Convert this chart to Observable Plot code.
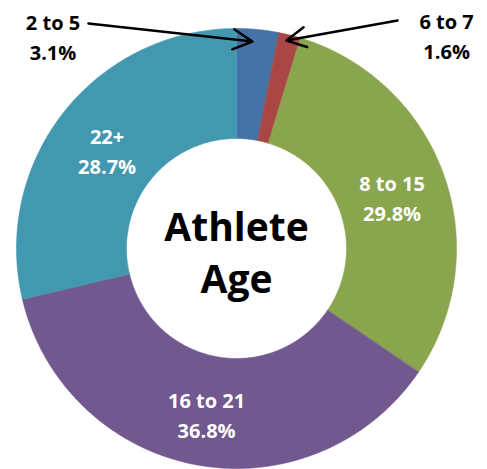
<!DOCTYPE html>
<html>
<head>
<meta charset="utf-8">
<script src="https://cdn.jsdelivr.net/npm/d3@7"></script>
<script src="https://cdn.jsdelivr.net/npm/@observablehq/plot@0.6"></script>
<style>
  html, body { margin: 0; padding: 0; background: #fff; }
  #chart svg { display: block; }
</style>
</head>
<body>
<div id="chart"></div>
<script>
// ---- data ----
const categories = ["2 to 5", "6 to 7", "8 to 15", "16 to 21", "22+"];
const shares = [3.1, 1.6, 29.8, 36.8, 28.7];
const colors = ["#4572A7", "#AA4643", "#89A54E", "#71588F", "#4198AF"];
const centerTitle = "Athlete\nAge";
// callouts for the thin slices (label block centre, arrow start, arrow tip) in chart units (outer radius = 1)
const calloutCats = ["2 to 5", "6 to 7"];
const calloutLabelX = [-0.834, 0.955];
const calloutLabelY = [0.970, 0.975];
const arrowFromX = [-0.673, 0.732];
const arrowFromY = [1.023, 1.036];
const arrowToX = [0.0727, 0.227];
const arrowToY = [0.941, 0.945];

// ---- geometry ----
const inner = 0.5, outer = 1, labelR = 0.75;
const arcs = d3.pie().sort(null).value(d => d)(shares);
const fmt = v => v.toFixed(1) + "%";

const ringPts = [];
arcs.forEach((a, i) => {
  const n = Math.max(4, Math.ceil((a.endAngle - a.startAngle) / (Math.PI / 360)));
  for (let k = 0; k <= n; k++) {
    const t = a.startAngle + (a.endAngle - a.startAngle) * k / n;
    ringPts.push({cat: categories[i], x: outer * Math.sin(t), y: outer * Math.cos(t)});
  }
  for (let k = n; k >= 0; k--) {
    const t = a.startAngle + (a.endAngle - a.startAngle) * k / n;
    ringPts.push({cat: categories[i], x: inner * Math.sin(t), y: inner * Math.cos(t)});
  }
});

const insideLabels = arcs
  .map((a, i) => ({i, mid: (a.startAngle + a.endAngle) / 2}))
  .filter(d => !calloutCats.includes(categories[d.i]))
  .map(d => ({
    x: labelR * Math.sin(d.mid),
    y: labelR * Math.cos(d.mid),
    text: categories[d.i] + "\n" + fmt(shares[d.i])
  }));

const callouts = calloutCats.map((c, j) => {
  const i = categories.indexOf(c);
  return {
    lx: calloutLabelX[j], ly: calloutLabelY[j],
    x1: arrowFromX[j], y1: arrowFromY[j],
    x2: arrowToX[j], y2: arrowToY[j],
    text: c + "\n" + fmt(shares[i])
  };
});

const W = 487, H = 469, R = 220, cx = 236, cy = 248;
const font = "'Open Sans', 'Noto Sans', sans-serif";

const chart = Plot.plot({
  width: W, height: H,
  margin: 0,
  style: {fontFamily: font, background: "#fff"},
  x: {domain: [-cx / R, (W - cx) / R], axis: null},
  y: {domain: [-(H - cy) / R, cy / R], axis: null},
  color: {domain: categories, range: colors},
  marks: [
    Plot.line(ringPts, {x: "x", y: "y", z: "cat", fill: "cat", stroke: "cat", strokeWidth: 0.6, curve: "linear-closed"}),
    Plot.text(insideLabels, {x: "x", y: "y", text: "text", textAnchor: "middle", fill: "white", fontSize: 20, fontWeight: "bold", lineHeight: 1.5, dy: 3}),
    Plot.text(callouts, {x: "lx", y: "ly", text: "text", textAnchor: "middle", fill: "black", fontSize: 20, fontWeight: "bold", lineHeight: 1.5}),
    Plot.arrow(callouts, {x1: "x1", y1: "y1", x2: "x2", y2: "y2", stroke: "black", strokeWidth: 2.5, headLength: 13, headAngle: 55}),
    Plot.text([centerTitle], {x: () => 0, y: () => 0, text: d => d, textAnchor: "middle", fill: "black", fontSize: 39, fontWeight: "bold", lineHeight: 1.333, dy: 2})
  ]
});
document.getElementById("chart").appendChild(chart);
</script>
</body>
</html>
